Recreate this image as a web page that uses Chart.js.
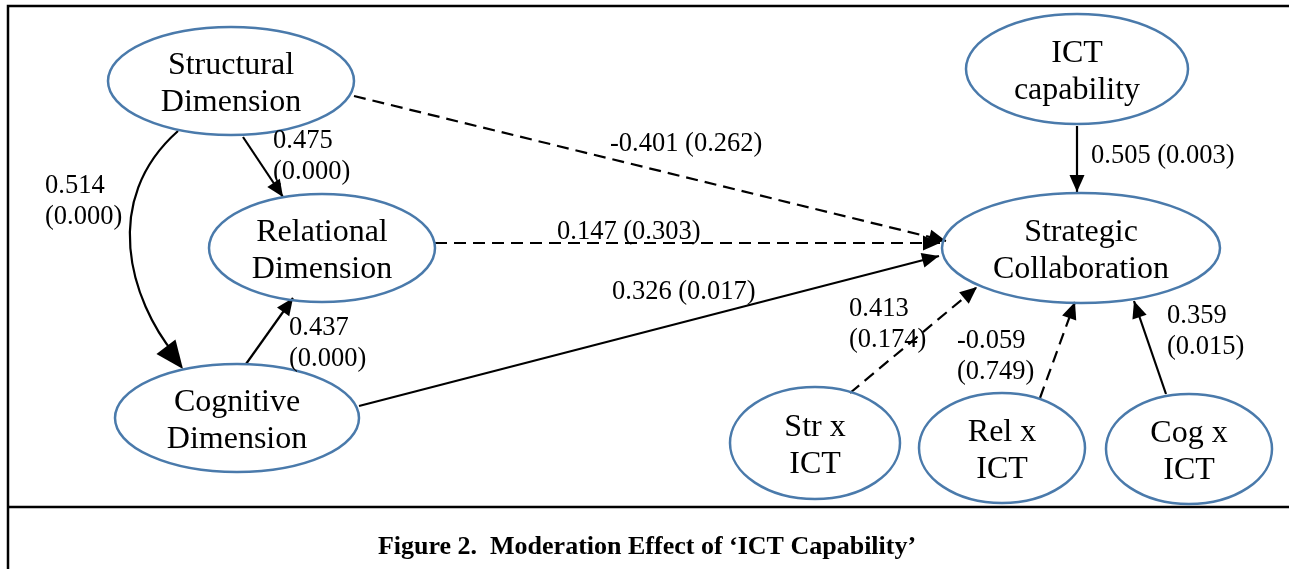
<!DOCTYPE html>
<html>
<head>
<meta charset="utf-8">
<script src="https://cdn.jsdelivr.net/npm/chart.js@4.4.1/dist/chart.umd.min.js"></script>
<style>
  html, body { margin: 0; padding: 0; background: #fff; }
</style>
</head>
<body>
<canvas id="pathChart" width="1289" height="569"></canvas>
<script>
// Path model: constructs (ellipses), diagram units = figure units
const nodeLabels = [
    ["Structural", "Dimension"],
    ["Relational", "Dimension"],
    ["Cognitive", "Dimension"],
    ["ICT", "capability"],
    ["Strategic", "Collaboration"],
    ["Str x", "ICT"],
    ["Rel x", "ICT"],
    ["Cog x", "ICT"]
];
const nodeX = [231, 322, 237, 1077, 1081, 815, 1002, 1189];
const nodeY = [81, 248, 418, 69, 248, 443, 448, 449];
const nodeRX = [123, 113, 122, 111, 139, 85, 83, 83];
const nodeRY = [54, 54, 54, 55, 55, 56, 55, 55];

// Paths: coefficient (p-value); p >= 0.05 drawn dashed
const pathCoef   = ["0.475", "0.514", "0.437", "-0.401", "0.147", "0.326", "0.505", "0.413", "-0.059", "0.359"];
const pathPValue = ["0.000", "0.000", "0.000", "0.262", "0.303", "0.017", "0.003", "0.174", "0.749", "0.015"];
const pathStartX = [243, 178, 246, 354, 435, 359, 1077, 850, 1040, 1166];
const pathStartY = [137, 131, 364, 96, 243, 406, 126, 393, 398, 394];
const pathEndX   = [283, 183, 293, 946, 940, 939, 1077, 977, 1075, 1134];
const pathEndY   = [197, 369, 298, 241, 243, 256, 192, 287, 302, 301];
const pathCurved = [false, true, false, false, false, false, false, false, false, false];
// control points of the curved path (Structural -> Cognitive)
const curveCtrl = [[100, 200], [130, 300]];
// where each coefficient label sits, and whether it breaks over two lines
const labelX = [273, 45, 289, 610, 557, 612, 1091, 849, 957, 1167];
const labelY = [140, 185, 327, 143, 231, 291, 155, 308, 340, 315];
const labelTwoLines = [true, true, true, false, false, false, false, true, true, true];

const figureCaption = "Figure 2.  Moderation Effect of \u2018ICT Capability\u2019";

let pathDatasets = [];
for (let i = 0; i < pathCoef.length; i++) {
    if (pathCurved[i]) continue;
    pathDatasets.push({
        data: [{x: pathStartX[i], y: pathStartY[i]}, {x: pathEndX[i], y: pathEndY[i]}],
        showLine: true,
        borderColor: '#000',
        borderWidth: 2.2,
        borderDash: parseFloat(pathPValue[i]) >= 0.05 ? [12, 7] : [],
        pointRadius: 0,
        fill: false
    });
}

function arrowHead(ctx, fx, fy, tx, ty, len, half) {
    let a = Math.atan2(ty - fy, tx - fx);
    ctx.save();
    ctx.translate(tx, ty);
    ctx.rotate(a);
    ctx.beginPath();
    ctx.moveTo(0, 0);
    ctx.lineTo(-len, -half);
    ctx.lineTo(-len, half);
    ctx.closePath();
    ctx.fillStyle = '#000';
    ctx.fill();
    ctx.restore();
}

const diagramPlugin = {
    id: 'diagram',
    beforeDatasetsDraw(chart) {
        const ctx = chart.ctx;
        const xs = chart.scales.x, ys = chart.scales.y;
        // frame + caption rule
        ctx.save();
        ctx.strokeStyle = '#000';
        ctx.lineWidth = 2.5;
        ctx.beginPath();
        ctx.moveTo(xs.getPixelForValue(8), ys.getPixelForValue(569));
        ctx.lineTo(xs.getPixelForValue(8), ys.getPixelForValue(6));
        ctx.lineTo(xs.getPixelForValue(1289), ys.getPixelForValue(6));
        ctx.moveTo(xs.getPixelForValue(8), ys.getPixelForValue(507));
        ctx.lineTo(xs.getPixelForValue(1289), ys.getPixelForValue(507));
        ctx.stroke();
        ctx.restore();
    },
    afterDatasetsDraw(chart) {
        const ctx = chart.ctx;
        const xs = chart.scales.x, ys = chart.scales.y;
        const px = v => xs.getPixelForValue(v);
        const py = v => ys.getPixelForValue(v);

        // curved path
        ctx.save();
        ctx.strokeStyle = '#000';
        ctx.lineWidth = 2.2;
        for (let i = 0; i < pathCoef.length; i++) {
            if (!pathCurved[i]) continue;
            ctx.beginPath();
            ctx.moveTo(px(pathStartX[i]), py(pathStartY[i]));
            ctx.bezierCurveTo(px(curveCtrl[0][0]), py(curveCtrl[0][1]),
                px(curveCtrl[1][0]), py(curveCtrl[1][1]),
                px(pathEndX[i] - 8), py(pathEndY[i] - 14));
            ctx.stroke();
            arrowHead(ctx, px(curveCtrl[1][0]), py(curveCtrl[1][1]), px(pathEndX[i]), py(pathEndY[i]), 28, 12);
        }
        ctx.restore();

        // arrow heads of straight paths
        for (let i = 0; i < pathCoef.length; i++) {
            if (pathCurved[i]) continue;
            arrowHead(ctx, px(pathStartX[i]), py(pathStartY[i]), px(pathEndX[i]), py(pathEndY[i]), 17, 7.5);
        }

        // ellipses
        ctx.save();
        ctx.strokeStyle = '#4a7aab';
        ctx.lineWidth = 2.5;
        for (let i = 0; i < nodeLabels.length; i++) {
            let cx = px(nodeX[i]), cy = py(nodeY[i]);
            let rx = px(nodeX[i] + nodeRX[i]) - cx;
            let ry = py(nodeY[i] + nodeRY[i]) - cy;
            ctx.beginPath();
            ctx.ellipse(cx, cy, Math.abs(rx), Math.abs(ry), 0, 0, Math.PI * 2);
            ctx.stroke();
        }
        ctx.restore();

        // node names
        ctx.save();
        ctx.fillStyle = '#000';
        ctx.textAlign = 'center';
        ctx.textBaseline = 'middle';
        ctx.font = '32px "Liberation Serif", "Times New Roman", serif';
        for (let i = 0; i < nodeLabels.length; i++) {
            let lines = nodeLabels[i];
            for (let j = 0; j < lines.length; j++) {
                ctx.fillText(lines[j], px(nodeX[i]), py(nodeY[i] + (j - 0.5) * 37 + 3));
            }
        }
        ctx.restore();

        // path coefficients
        ctx.save();
        ctx.fillStyle = '#000';
        ctx.textAlign = 'left';
        ctx.textBaseline = 'middle';
        ctx.font = '26.5px "Liberation Serif", "Times New Roman", serif';
        for (let i = 0; i < pathCoef.length; i++) {
            if (labelTwoLines[i]) {
                ctx.fillText(pathCoef[i], px(labelX[i]), py(labelY[i] + 1));
                ctx.fillText('(' + pathPValue[i] + ')', px(labelX[i]), py(labelY[i] + 32));
            } else {
                ctx.fillText(pathCoef[i] + ' (' + pathPValue[i] + ')', px(labelX[i]), py(labelY[i] + 1));
            }
        }
        ctx.restore();

        // caption
        ctx.save();
        ctx.fillStyle = '#000';
        ctx.textAlign = 'center';
        ctx.textBaseline = 'middle';
        ctx.font = 'bold 26px "Liberation Serif", "Times New Roman", serif';
        ctx.fillText(figureCaption, px(647), py(547));
        ctx.restore();
    }
};

new Chart(document.getElementById('pathChart'), {
    type: 'scatter',
    data: { datasets: pathDatasets },
    options: {
        responsive: false,
        animation: false,
        devicePixelRatio: 1,
        layout: { padding: 0 },
        scales: {
            x: { type: 'linear', min: 0, max: 1289, display: false },
            y: { type: 'linear', min: 0, max: 569, reverse: true, display: false }
        },
        plugins: {
            legend: { display: false },
            tooltip: { enabled: false }
        }
    },
    plugins: [diagramPlugin]
});
</script>
</body>
</html>
